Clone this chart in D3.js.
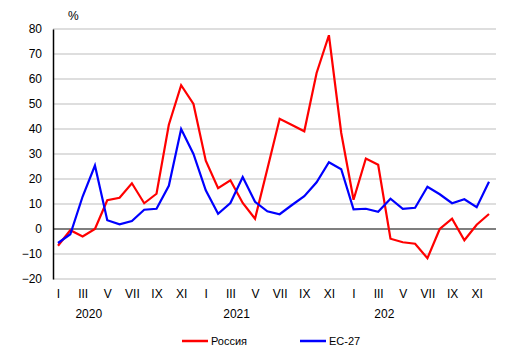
<!DOCTYPE html>
<html><head><meta charset="utf-8">
<script src="https://cdn.jsdelivr.net/npm/d3@7"></script>
<style>body{margin:0;background:#fff}svg{display:block}text{font-family:"Liberation Sans",Arial,sans-serif;font-size:12px;fill:#000}</style>
</head><body>
<script>
const monthLabels = ["I","II","III","IV","V","VI","VII","VIII","IX","X","XI","XII"];
const years = ["2020","2021","202"];
const russia = [-6.7,-0.5,-3,0,11.5,12.5,18.3,10.3,14.1,41.7,57.5,50,27.3,16.3,19.5,10.4,4.1,24,44.1,41.6,39.1,62.4,77.5,38.4,11.7,28.2,25.7,-3.9,-5.3,-5.9,-11.7,0,4.1,-4.5,1.7,6];
const eu27 = [-5.6,-2.1,13,25.4,3.5,1.9,3.2,7.7,8.1,17.3,40,30,15.5,6.1,10.4,20.8,10.9,7.1,5.9,9.6,13.1,18.7,26.7,23.9,7.9,8.1,6.9,12.1,8.1,8.5,16.9,13.9,10.3,11.9,8.7,18.9];
const yTicks = [-20,-10,0,10,20,30,40,50,60,70,80];
const seriesNames = ["Россия","ЕС-27"];

const W=515,H=358;
const svg=d3.select("body").append("svg").attr("width",W).attr("height",H);
const idx=d3.range(russia.length);
const x=d3.scalePoint().domain(idx).range([58,489]);
const y=d3.scaleLinear().domain([-20,80]).range([279,29]);
const xL=53,xR=496;

// gridlines
svg.append("g").selectAll("line").data(yTicks.filter(d=>d!==0)).join("line")
 .attr("x1",xL).attr("x2",xR).attr("y1",d=>y(d)).attr("y2",d=>y(d))
 .attr("stroke","#bdbdbd").attr("stroke-width",1);
// y axis
const ya=svg.append("g").attr("transform",`translate(${xL},0)`).call(d3.axisLeft(y).tickValues(yTicks).tickSize(0).tickPadding(11));
ya.select(".domain").attr("stroke","#000").attr("stroke-width",1.5);
ya.selectAll("text").style("font-size","12px").style("font-family","Liberation Sans, Arial, sans-serif");
// zero line
svg.append("line").attr("x1",xL).attr("x2",xR).attr("y1",y(0)).attr("y2",y(0)).attr("stroke","#000").attr("stroke-width",1.2);
// % label
svg.append("text").attr("x",68).attr("y",20).text("%");

// x labels
const xa=svg.append("g").attr("transform","translate(0,279)").call(d3.axisBottom(x).tickValues(idx.filter(i=>i%2===0)).tickFormat(i=>monthLabels[i%12]).tickSize(0).tickPadding(10));
xa.select(".domain").remove();
xa.selectAll("text").style("font-size","12px").style("font-family","Liberation Sans, Arial, sans-serif");
// years
svg.append("g").selectAll("text").data(years).join("text")
 .attr("x",(d,i)=>(x(i*12+2)+x(i*12+3))/2).attr("y",318).attr("text-anchor","middle").text(d=>d);

// lines
const line=d3.line().x((d,i)=>x(i)).y(d=>y(d));
svg.append("path").datum(russia).attr("d",line).attr("fill","none").attr("stroke","#ff0000").attr("stroke-width",2.2).attr("stroke-linejoin","miter");
svg.append("path").datum(eu27).attr("d",line).attr("fill","none").attr("stroke","#0000ff").attr("stroke-width",2.2).attr("stroke-linejoin","miter");

// legend
const leg=[{n:seriesNames[0],c:"#ff0000",x:182},{n:seriesNames[1],c:"#0000ff",x:300}];
const lg=svg.append("g").selectAll("g").data(leg).join("g").attr("transform",d=>`translate(${d.x},341)`);
lg.append("line").attr("x1",0).attr("x2",26).attr("stroke",d=>d.c).attr("stroke-width",2.5);
lg.append("text").attr("x",29).attr("y",4).style("font-size","11px").text(d=>d.n);
</script>
</body></html>
